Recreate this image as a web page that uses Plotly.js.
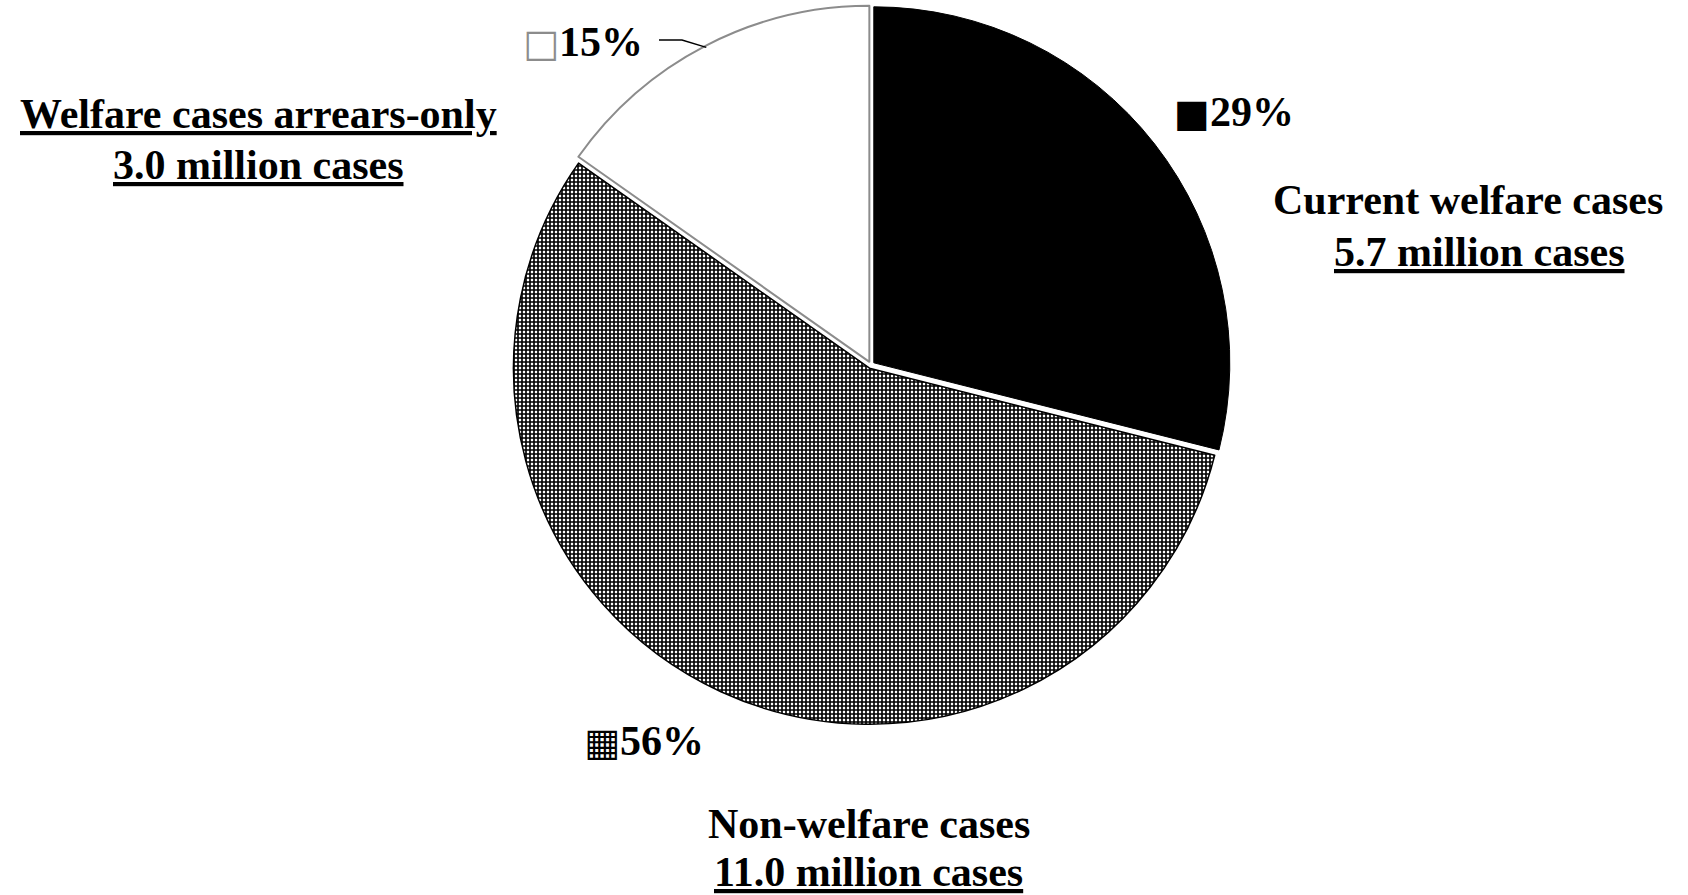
<!DOCTYPE html>
<html>
<head>
<meta charset="utf-8">
<script src="https://cdn.plot.ly/plotly-3.0.1.min.js"></script>
<style>html,body{margin:0;padding:0;background:#fff;}#chart{width:1688px;height:895px;}</style>
</head>
<body>
<div id="chart"></div>
<script>
// ---- data ----
const categories = ["Current welfare cases", "Non-welfare cases", "Welfare cases arrears-only"];
const valuesMillions = [5.7, 11.0, 3.0];
const sliceColors = ["#000000", "#ffffff", "#ffffff"];
const lineColors = ["#000000", "#000000", "#8c8c8c"];
const patternShapes = ["", "+", ""];
const keyGlyphs = ["■", "▦", "□"];
const keyColors = ["#000000", "#000000", "#8c8c8c"];

// ---- layout helpers ----
const W = 1688, H = 895;
const px = x => x / W;
const py = y => 1 - y / H;
const cx = 871, cy = 365, r = 356, pull = 0.01;
const Rd = r * (1 + pull);

const total = valuesMillions.reduce((a, b) => a + b, 0);
const pct = valuesMillions.map(v => Math.round(v / total * 100) + "%");

const font = {family: "Liberation Serif, Times New Roman, serif", size: 42, color: "#000"};
const UL = '<span style="text-decoration:underline;text-decoration-thickness:4px;text-underline-offset:4px">';

function key(i) {
  return '<span style="font-family:DejaVu Sans;font-size:38px;color:' + keyColors[i] + '">' + keyGlyphs[i] + '</span><b>' + pct[i] + '</b>';
}

// label positions (pixel layout)
const nameLabelPos = [[1468, 200], [869, 824], [258, 114]];
const valueLabelPos = [[1479, 252], [869, 872], [258, 165]];
const pctLabelPos = [[1172, 112], [582, 741], [521, 42]];

const annotations = [];
for (let i = 0; i < categories.length; i++) {
  annotations.push({
    x: px(nameLabelPos[i][0]), y: py(nameLabelPos[i][1]), xref: "paper", yref: "paper",
    text: (i === 2 ? "<b>" + UL + categories[i] + "</span></b>" : "<b>" + categories[i] + "</b>"),
    showarrow: false, xanchor: "center", yanchor: "middle", font: font
  });
  annotations.push({
    x: px(valueLabelPos[i][0]), y: py(valueLabelPos[i][1]), xref: "paper", yref: "paper",
    text: "<b>" + UL + valuesMillions[i].toFixed(1) + " million cases</span></b>",
    showarrow: false, xanchor: "center", yanchor: "middle", font: font
  });
  annotations.push({
    x: px(pctLabelPos[i][0]), y: py(pctLabelPos[i][1]), xref: "paper", yref: "paper",
    text: key(i), showarrow: false, xanchor: "left", yanchor: "middle", font: font
  });
}

// leader line to the arrears-only slice, computed from its mid angle
const before = valuesMillions[0] + valuesMillions[1];
const midFrac = (before + valuesMillions[2] / 2) / total;
const th = midFrac * 2 * Math.PI;
const ex = cx + (r + r * pull) * Math.sin(th) * 0.995;
const ey = cy - (r + r * pull) * Math.cos(th) * 0.995;
const shapes = [{
  type: "path", xref: "paper", yref: "paper",
  path: "M " + px(659) + " " + py(40) + " L " + px(682) + " " + py(40) + " L " + px(ex) + " " + py(ey),
  line: {color: "#000", width: 1.5}
}];

const trace = {
  type: "pie",
  labels: categories,
  values: valuesMillions,
  sort: false,
  direction: "clockwise",
  rotation: 0,
  pull: [pull, pull, pull],
  textinfo: "none",
  hoverinfo: "label+percent",
  marker: {
    colors: sliceColors,
    line: {color: lineColors, width: [1, 1.5, 2]},
    pattern: {shape: patternShapes, fgcolor: "#000000", bgcolor: "#ffffff", size: 4, solidity: 0.65}
  },
  domain: {x: [px(cx - Rd), px(cx + Rd)], y: [py(cy + Rd), py(cy - Rd)]},
  showlegend: false
};

const layout = {
  width: W, height: H,
  margin: {l: 0, r: 0, t: 0, b: 0},
  paper_bgcolor: "#fff",
  showlegend: false,
  annotations: annotations,
  shapes: shapes
};

Plotly.newPlot("chart", [trace], layout, {displayModeBar: false, staticPlot: true});
</script>
</body>
</html>
